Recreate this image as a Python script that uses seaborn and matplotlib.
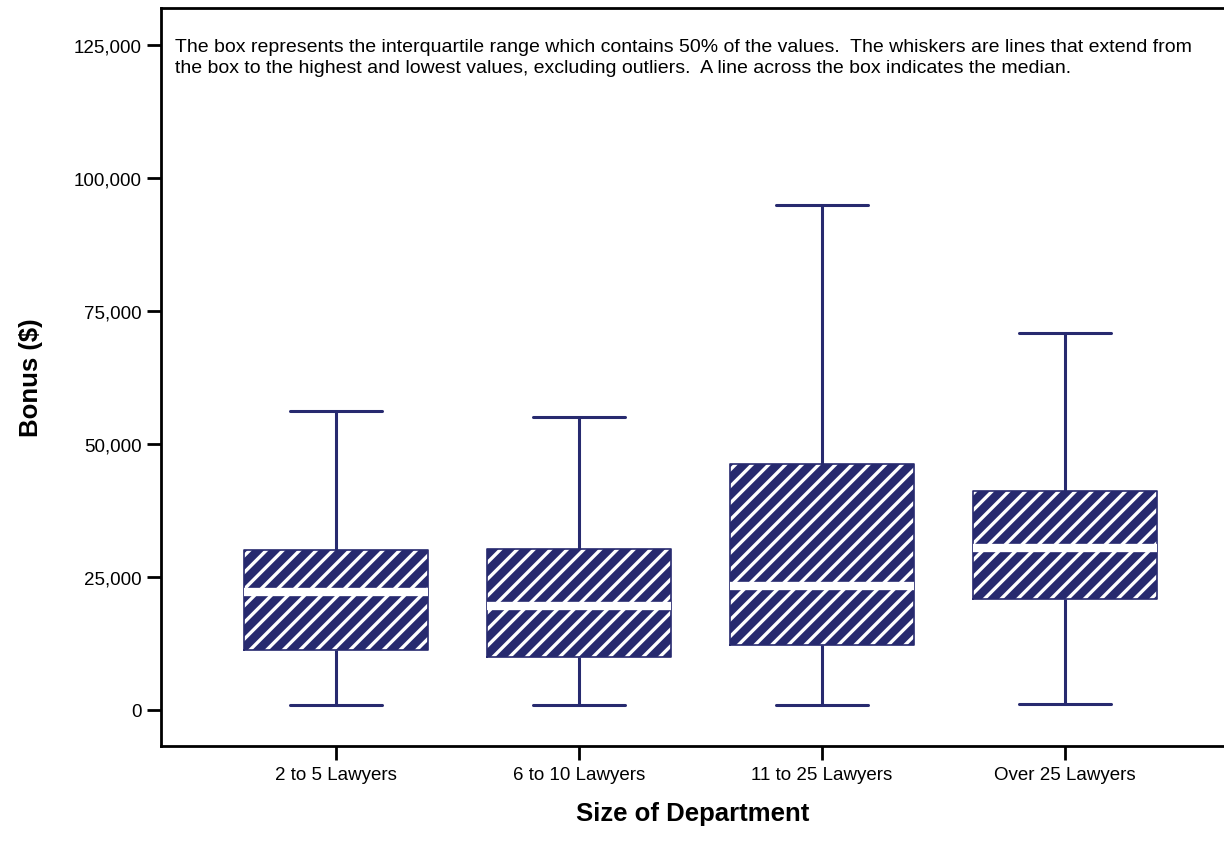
import pandas as pd
import matplotlib
matplotlib.use("Agg")
import matplotlib.pyplot as plt
import seaborn as sns
from matplotlib.ticker import FuncFormatter

# Five-number summaries (whisker min, Q1, median, Q3, whisker max)
departments = ["2 to 5 Lawyers", "6 to 10 Lawyers", "11 to 25 Lawyers", "Over 25 Lawyers"]
bonus_min = [900, 900, 900, 1100]
bonus_q1 = [11300, 9900, 12200, 20800]
bonus_median = [22200, 19500, 23300, 30400]
bonus_q3 = [30000, 30200, 46200, 41100]
bonus_max = [56200, 55100, 94900, 70800]
y_ticks = [0, 25000, 50000, 75000, 100000, 125000]

note = ("The box represents the interquartile range which contains 50% of the values.  "
        "The whiskers are lines that extend from\nthe box to the highest and lowest values, "
        "excluding outliers.  A line across the box indicates the median.")

# long table: 5 values per group so the quartiles land exactly on the summary
rows = []
for i, dep in enumerate(departments):
    for v in (bonus_min[i], bonus_q1[i], bonus_median[i], bonus_q3[i], bonus_max[i]):
        rows.append({"department": dep, "bonus": v})
df = pd.DataFrame(rows)

navy = "#272A6F"

sns.set_theme(style="white")
plt.rcParams["font.family"] = ["Liberation Sans", "DejaVu Sans"]
plt.rcParams["hatch.linewidth"] = 2.4

fig = plt.figure(figsize=(12.24, 8.54), dpi=100)
ax = fig.add_axes([161 / 1224, 1 - 747.3 / 854, 1 - 161 / 1224, (747.3 - 8.7) / 854])

# filled, hatched boxes with white median
sns.boxplot(data=df, x="department", y="bonus", order=departments, whis=(0, 100),
            width=0.755, color=navy, saturation=1, showfliers=False, ax=ax,
            boxprops=dict(facecolor=navy, edgecolor="white", linewidth=0, hatch="//"),
            medianprops=dict(color="white", linewidth=6, solid_capstyle="butt"),
            whiskerprops=dict(color=navy, linewidth=2.2),
            capprops=dict(color=navy, linewidth=2.2))
# thin navy outline on top
sns.boxplot(data=df, x="department", y="bonus", order=departments, whis=(0, 100),
            width=0.755, fill=False, color=navy, linecolor=navy, linewidth=1.2,
            showfliers=False, ax=ax,
            medianprops=dict(linewidth=0),
            whiskerprops=dict(linewidth=0),
            capprops=dict(linewidth=0))

ax.set_xlim(-0.72, 3.654)
ax.set_ylim(-6900, 132000)
ax.set_yticks(y_ticks)
ax.yaxis.set_major_formatter(FuncFormatter(lambda v, p: f"{int(v):,}"))

for side in ["left", "bottom", "top"]:
    ax.spines[side].set_visible(True)
    ax.spines[side].set_color("black")
    ax.spines[side].set_linewidth(2)
ax.spines["right"].set_visible(False)
ax.tick_params(axis="both", direction="out", length=10, width=2, color="black",
               labelsize=13.5, labelcolor="black", pad=4, left=True, bottom=True)

ax.set_xlabel("Size of Department", fontsize=18.5, fontweight="bold", labelpad=13,
              color="black")
ax.set_ylabel("Bonus ($)", fontsize=18.5, fontweight="bold", labelpad=22, color="black")

ax.text(0.0132, 0.959, note, transform=ax.transAxes, ha="left", va="top",
        fontsize=14, color="black", linespacing=1.3)

fig.savefig("out.png", dpi=100)
plt.close(fig)
